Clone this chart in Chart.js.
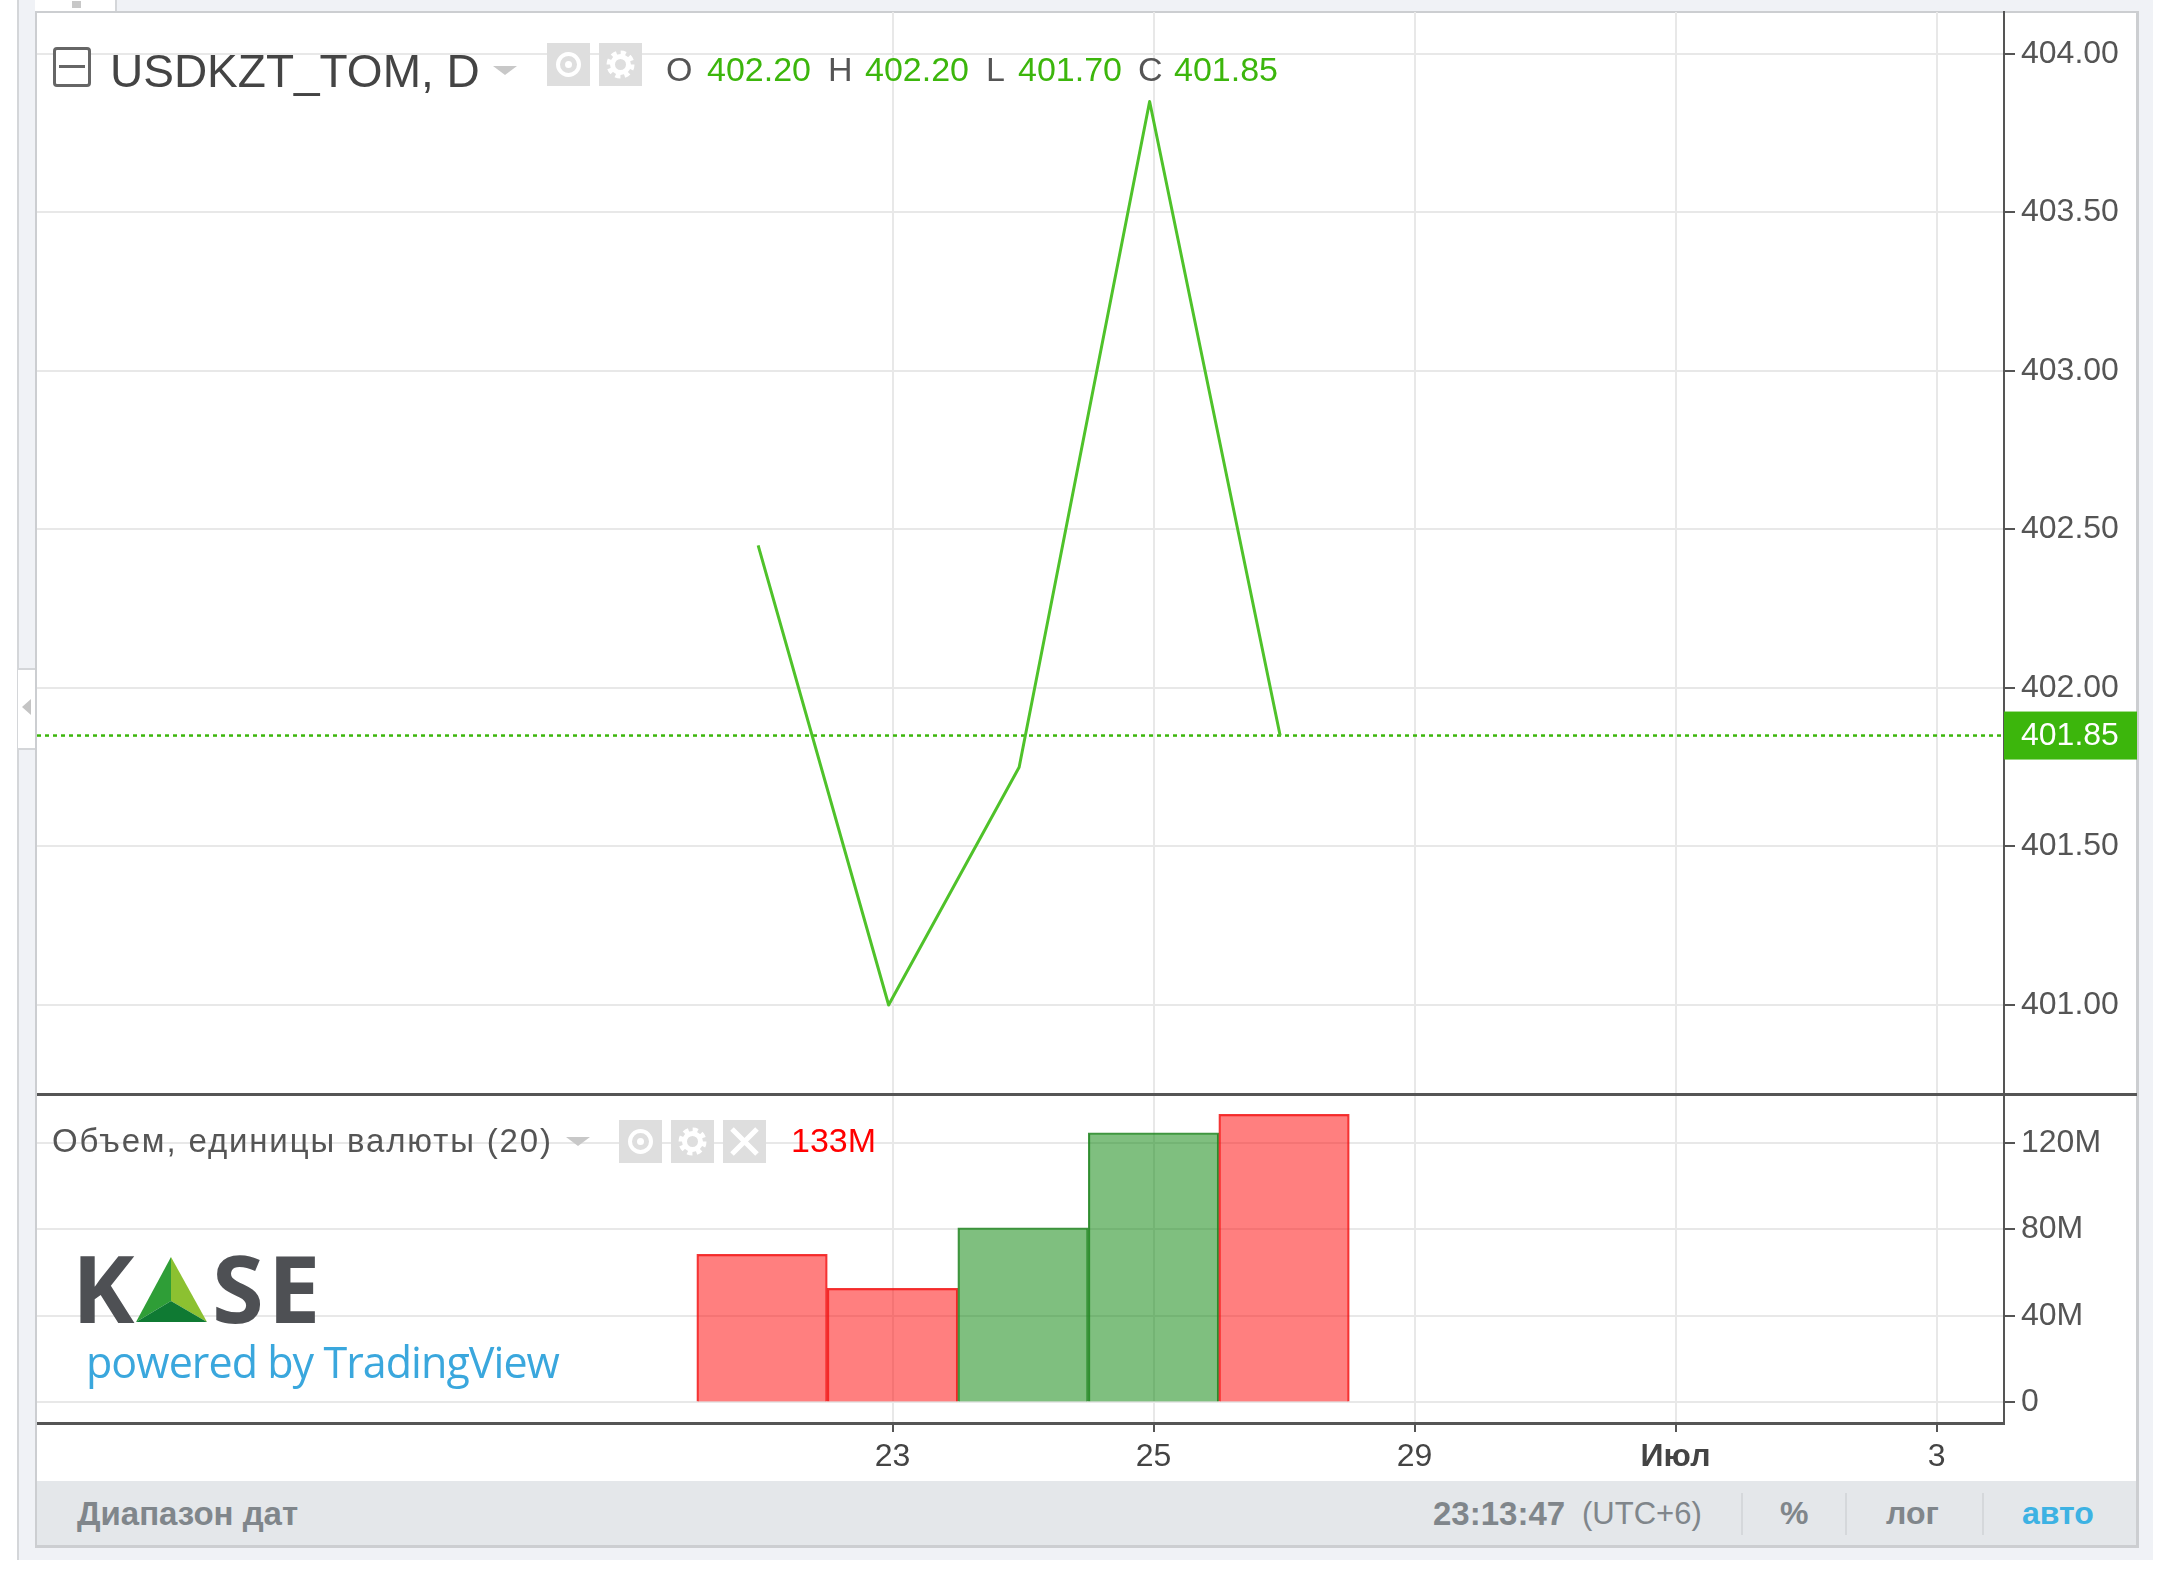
<!DOCTYPE html>
<html>
<head>
<meta charset="utf-8">
<script src="https://cdn.jsdelivr.net/npm/chart.js@4"></script>
<style>
  html, body { margin: 0; padding: 0; background: #fff; }
  #page { position: relative; width: 2160px; height: 1571px; overflow: hidden; font-family: "Liberation Sans", sans-serif; background: #fff; }
  #page div, #page span { position: absolute; white-space: nowrap; line-height: 1; }
  #page svg { position: absolute; }
  canvas { position: absolute; left: 0; }
  .t { transform: translateY(-50%); }
  .bx { background: #dedede; }
  .sep { width: 2px; top: 1493px; height: 42px; background: #d5d8db; }
</style>
</head>
<body>
<div id="page">
  <!-- рамка виджета -->
  <div style="left:17px;top:0;width:2136px;height:1560px;background:#f0f2f6"></div>
  <div style="left:17px;top:0;width:2px;height:1560px;background:#d4d6d9"></div>
  <div style="left:35px;top:11px;width:2104px;height:1537px;background:#fff;border:solid #ccced1;border-width:2px 3px 3px 2px;box-sizing:border-box"></div>
  <div style="left:35px;top:0;width:80px;height:11px;background:#fff;border-right:2px solid #d4d6d9"></div>
  <div style="left:72px;top:1px;width:9px;height:7px;background:#c8c8c8"></div>
  <div style="left:18px;top:668px;width:17px;height:78px;background:#fff;border:solid #d4d6d9;border-width:2px 0"></div>
  <div style="left:22px;top:699px;width:0;height:0;border:8px solid transparent;border-left:0;border-right:9px solid #c4c4c4"></div>

  <canvas id="precio" width="2160" height="1100" style="top:0;width:2160px;height:1100px"></canvas>
  <canvas id="volumen" width="2160" height="390" style="top:1090px;width:2160px;height:390px"></canvas>

  <!-- leyenda principal -->
  <div style="left:53px;top:47px;width:38px;height:40px;border:3px solid #666;border-radius:4px;box-sizing:border-box;background:#fff"></div>
  <div style="left:59px;top:65px;width:26px;height:3px;background:#666"></div>
  <span class="t" style="left:110px;top:71px;font-size:46px;color:#444">USDKZT_TOM, D</span>
  <div style="left:493px;top:66px;width:0;height:0;border:12px solid transparent;border-bottom:0;border-top:9px solid #c8c8c8"></div>
  <div class="bx" style="left:547px;top:43px;width:43px;height:43px"></div>
  <div style="left:556px;top:52px;width:25px;height:25px;border:4px solid #fff;border-radius:50%;box-sizing:border-box"></div>
  <div style="left:565px;top:61px;width:7px;height:7px;background:#fff;border-radius:50%"></div>
  <div class="bx" style="left:599px;top:43px;width:43px;height:43px"></div>
  <svg style="left:606px;top:50px" width="29" height="29" viewBox="0 0 29 29"><circle cx="14.5" cy="14.5" r="8" fill="none" stroke="#fff" stroke-width="5"/><circle cx="14.5" cy="14.5" r="11.5" fill="none" stroke="#fff" stroke-width="5" stroke-dasharray="5 4"/></svg>

  <span class="t" style="left:666px;top:69px;font-size:34px;color:#555">O</span>
  <span class="t" style="left:707px;top:69px;font-size:34px;color:#3cb60c">402.20</span>
  <span class="t" style="left:828px;top:69px;font-size:34px;color:#555">H</span>
  <span class="t" style="left:865px;top:69px;font-size:34px;color:#3cb60c">402.20</span>
  <span class="t" style="left:986px;top:69px;font-size:34px;color:#555">L</span>
  <span class="t" style="left:1018px;top:69px;font-size:34px;color:#3cb60c">401.70</span>
  <span class="t" style="left:1138px;top:69px;font-size:34px;color:#555">C</span>
  <span class="t" style="left:1174px;top:69px;font-size:34px;color:#3cb60c">401.85</span>

  <!-- leyenda de volumen -->
  <span class="t" style="left:52px;top:1140px;font-size:33px;letter-spacing:1.85px;color:#555">Объем, единицы валюты (20)</span>
  <div style="left:566px;top:1137px;width:0;height:0;border:12px solid transparent;border-bottom:0;border-top:9px solid #c8c8c8"></div>
  <div class="bx" style="left:619px;top:1120px;width:43px;height:43px"></div>
  <div style="left:628px;top:1129px;width:25px;height:25px;border:4px solid #fff;border-radius:50%;box-sizing:border-box"></div>
  <div style="left:637px;top:1138px;width:7px;height:7px;background:#fff;border-radius:50%"></div>
  <div class="bx" style="left:671px;top:1120px;width:43px;height:43px"></div>
  <svg style="left:678px;top:1127px" width="29" height="29" viewBox="0 0 29 29"><circle cx="14.5" cy="14.5" r="8" fill="none" stroke="#fff" stroke-width="5"/><circle cx="14.5" cy="14.5" r="11.5" fill="none" stroke="#fff" stroke-width="5" stroke-dasharray="5 4"/></svg>
  <div class="bx" style="left:723px;top:1120px;width:43px;height:43px"></div>
  <svg style="left:723px;top:1120px" width="43" height="43" viewBox="0 0 43 43"><path d="M9 9 L34 34 M34 9 L9 34" stroke="#fff" stroke-width="5"/></svg>
  <span class="t" style="left:791px;top:1140px;font-size:34px;color:#f00">133M</span>

  <!-- логотип -->
  <span class="t" style="left:72px;top:1287px;font-family:'Open Sans';font-weight:700;font-size:94px;color:#4e5054">K</span>
  <span class="t" style="left:212px;top:1287px;font-family:'Open Sans';font-weight:700;font-size:94px;letter-spacing:4px;color:#4e5054">SE</span>
  <svg style="left:136px;top:1257px" width="72" height="66" viewBox="0 0 72 66">
    <polygon points="35,0 0,65 35,44" fill="#2f9e37"/>
    <polygon points="35,0 71,65 35,44" fill="#8cc131"/>
    <polygon points="35,44 0,65 71,65" fill="#0f7a33"/>
  </svg>
  <span class="t" style="left:86px;top:1361px;font-family:'Open Sans';font-size:43px;letter-spacing:-0.95px;color:#3aa7dd">powered by TradingView</span>

  <!-- barra inferior -->
  <div style="left:37px;top:1481px;width:2099px;height:64px;background:#e4e7ea"></div>
  <span class="t" style="left:77px;top:1513px;font-size:33px;font-weight:bold;color:#80868b">Диапазон дат</span>
  <span class="t" style="left:1433px;top:1513px;font-size:33px;font-weight:bold;color:#80868b">23:13:47</span>
  <span class="t" style="left:1582px;top:1513px;font-size:31px;color:#80868b">(UTC+6)</span>
  <div class="sep" style="left:1741px"></div>
  <span class="t" style="left:1780px;top:1513px;font-size:32px;font-weight:bold;color:#80868b">%</span>
  <div class="sep" style="left:1845px"></div>
  <span class="t" style="left:1886px;top:1513px;font-size:32px;font-weight:bold;color:#80868b">лог</span>
  <div class="sep" style="left:1982px"></div>
  <span class="t" style="left:2022px;top:1513px;font-size:32px;font-weight:bold;color:#3db2e3">авто</span>
</div>

<script>
// dias de la serie y etiquetas del eje x
const dias = ["22", "23", "24", "25", "26", "29", "30", "Июл", "2", "3"]
const diasEje = [1, 3, 5, 7, 9]

// precio de cierre
const cierres = [402.45, 401.00, 401.75, 403.85, 401.85]
const ultimoCierre = 401.85

// volumen y color de cada barra
const volumenes = [68.4e6, 52.7e6, 80.7e6, 124.6e6, 133.1e6]
const subidas = [false, false, true, true, false]

const ticksPrecio = [401, 401.5, 402, 402.5, 403, 403.5, 404]
const ticksVolumen = [0, 40e6, 80e6, 120e6]

const xMin = -5.556
const xMax = 9.517
const corrimientoLinea = 0.03 // la linea queda un poco a la izquierda de la grilla

const verde = "#3cb60c"
const colorGrilla = "#e8e8e8"
const colorTexto = "#555"
const colorEje = "#555"
const fuente = { family: "'Liberation Sans'", size: 32 }

Chart.defaults.animation = false
Chart.defaults.responsive = false
Chart.defaults.devicePixelRatio = 1

// eje x comun, sin etiquetas en el panel de arriba
function ejeX(conEtiquetas) {
    return {
        type: "linear",
        offset: false,
        min: xMin,
        max: xMax,
        afterBuildTicks: (eje) => { eje.ticks = diasEje.map((i) => ({ value: i })) },
        afterFit: (eje) => {
            eje.height = conEtiquetas ? 57 : 0
            eje.paddingLeft = 0
            eje.paddingRight = 0
        },
        border: { display: false },
        grid: { offset: false, color: colorGrilla, lineWidth: 2, drawTicks: conEtiquetas, tickLength: 9, tickColor: colorEje },
        ticks: {
            display: conEtiquetas,
            maxRotation: 0,
            autoSkip: false,
            padding: 6,
            color: "#444",
            font: (c) => c.tick && dias[c.tick.value] === "Июл" ? { ...fuente, weight: "bold" } : fuente,
            callback: (v) => dias[v],
        },
    }
}

function ejeY(min, max, ticks, formato) {
    return {
        position: "right",
        min: min,
        max: max,
        afterBuildTicks: (eje) => { eje.ticks = ticks.map((v) => ({ value: v })) },
        afterFit: (eje) => {
            eje.width = 133
            eje.paddingTop = 0
            eje.paddingBottom = 0
        },
        border: { color: colorEje, width: 2 },
        grid: { color: colorGrilla, lineWidth: 2, tickColor: colorEje, tickLength: 11 },
        ticks: { color: colorTexto, font: fuente, padding: 6, callback: formato },
    }
}

// etiqueta verde con el ultimo precio sobre el eje
const etiquetaPrecio = {
    id: "etiquetaPrecio",
    afterDraw(chart) {
        const eje = chart.scales.y
        const y = eje.getPixelForValue(ultimoCierre)
        const ctx = chart.ctx
        ctx.save()
        ctx.fillStyle = verde
        ctx.fillRect(eje.left, y - 24, 133, 48)
        ctx.fillStyle = "#fff"
        ctx.font = "32px 'Liberation Sans'"
        ctx.textBaseline = "middle"
        ctx.textAlign = "left"
        ctx.fillText(ultimoCierre.toFixed(2), eje.left + 17, y + 1)
        ctx.restore()
    },
}

new Chart(document.getElementById("precio"), {
    type: "line",
    data: {
        datasets: [
            {
                data: cierres.map((valor, i) => ({ x: i, y: valor })),
                xAxisID: "xLinea",
                borderColor: "#4fc22a",
                borderWidth: 3,
                borderJoinStyle: "round",
                pointRadius: 0,
                tension: 0,
            },
            {
                data: [{ x: xMin, y: ultimoCierre }, { x: xMax, y: ultimoCierre }],
                borderColor: verde,
                borderWidth: 2.5,
                borderDash: [4, 4],
                pointRadius: 0,
            },
        ],
    },
    options: {
        layout: { padding: { left: 37, right: 23, top: 12, bottom: 6 } },
        plugins: { legend: { display: false }, tooltip: { enabled: false } },
        scales: {
            x: ejeX(false),
            xLinea: {
                type: "linear",
                display: false,
                min: xMin + corrimientoLinea,
                max: xMax + corrimientoLinea,
            },
            y: ejeY(400.7192, 404.1325, ticksPrecio, (v) => v.toFixed(2)),
        },
    },
    plugins: [etiquetaPrecio],
})

new Chart(document.getElementById("volumen"), {
    type: "bar",
    data: {
        datasets: [{
            data: volumenes.map((valor, i) => ({ x: i, y: valor })),
            backgroundColor: subidas.map((s) => s ? "rgba(0,128,0,0.5)" : "rgba(255,0,0,0.5)"),
            borderColor: subidas.map((s) => s ? "rgba(30,130,30,0.85)" : "rgba(240,20,20,0.85)"),
            borderWidth: 1.5,
            barPercentage: 1,
            categoryPercentage: 1,
        }],
    },
    options: {
        layout: { padding: { left: 37, right: 23, top: 4, bottom: 0 } },
        plugins: { legend: { display: false }, tooltip: { enabled: false } },
        scales: {
            x: ejeX(true),
            y: ejeY(-9.5e6, 142.5e6, ticksVolumen, (v) => v === 0 ? "0" : v / 1e6 + "M"),
        },
    },
})

// lineas que separan los paneles
const paginaLineas = document.getElementById("page")
paginaLineas.insertAdjacentHTML("beforeend",
    '<div style="left:37px;top:1093px;width:2100px;height:3px;background:#555"></div>' +
    '<div style="left:37px;top:1422px;width:1968px;height:3px;background:#555"></div>')
</script>
</body>
</html>
